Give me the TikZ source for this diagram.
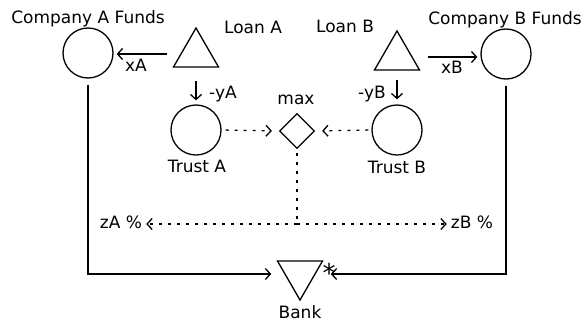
\documentclass[tikz,border=0pt]{standalone}
\usepackage{fontspec}
\setmainfont{DejaVu Sans}
\usetikzlibrary{shapes.geometric,arrows.meta}

\begin{document}
\begin{tikzpicture}[x=1pt,y=-1pt,
        font=\fontsize{17}{20}\selectfont,
        pool/.style={circle,draw,line width=1.3pt,minimum size=50pt,inner sep=0pt},
        tri/.style={regular polygon,regular polygon sides=3,draw,line width=1.3pt,minimum size=52pt,inner sep=0pt},
        gate/.style={diamond,draw,line width=1.3pt,minimum width=35pt,minimum height=35pt,inner sep=0pt},
        lbl/.style={anchor=base,inner sep=0pt},
        flow/.style={line width=1.3pt,-{Straight Barb[length=5pt,width=11pt]}},
        dotline/.style={line width=1.3pt,dash pattern=on 3pt off 6pt},
        dots/.style={flow,dotline}]
    \useasboundingbox (0,0) rectangle (586,322);

    % stocks and sources
    \node[pool] (fundsA) at (88,53) {};
    \node[pool] (fundsB) at (506,54) {};
    \node[tri] (loanA) at (196,54) {};
    \node[tri] (loanB) at (397,57) {};
    \node[pool] (trustA) at (196,130) {};
    \node[pool] (trustB) at (397,130) {};
    \node[gate] (max) at (297,131) {};
    \node[tri,shape border rotate=180] (bank) at (300,274) {};
    \coordinate (split) at (297,224);

    % labels
    \node[lbl] (fundsAlbl) at (88,23) {Company A Funds};
    \node[lbl] (fundsBlbl) at (505,24) {Company B Funds};
    \node[lbl] (loanAlbl) at (253,33) {Loan A};
    \node[lbl] (loanBlbl) at (345,32) {Loan B};
    \node[lbl] (xA) at (136,71) {xA};
    \node[lbl] (xB) at (452,73) {xB};
    \node[lbl,anchor=base west] (yA) at (209,98) {-yA};
    \node[lbl,anchor=base east] (yB) at (386,98) {-yB};
    \node[lbl] (trustAlbl) at (197,172) {Trust A};
    \node[lbl] (trustBlbl) at (397,173) {Trust B};
    \node[lbl] (maxlbl) at (296,104) {max};
    \node[lbl] (zA) at (121,228) {zA \%};
    \node[lbl] (zB) at (472,228) {zB \%};
    \node[lbl] (banklbl) at (300,318) {Bank};
    \node[font=\fontsize{26}{26}\selectfont] (star) at (329,273) {*};

    % flows
    \draw[flow,shorten <=13pt,shorten >=3pt] (loanA.west) -- (loanA.west -| fundsA.east);
    \draw[flow,shorten <=15pt,shorten >=3pt] (loanB.east) -- (loanB.east -| fundsB.west);
    \draw[flow,shorten <=13pt,shorten >=4pt] (loanA.south) -- (trustA.north);
    \draw[flow,shorten <=9pt,shorten >=5pt] (loanB.south) -- (trustB.north);
    \draw[dots,shorten <=4pt,shorten >=7pt] (trustA.east) -- (max.west);
    \draw[dots,shorten <=3pt,shorten >=7pt] (trustB.west) -- (max.east);
    \draw[dotline,shorten <=4pt] (max.south) -- (split);
    \draw[dots,shorten >=4pt] (split) -- (split -| zA.east);
    \draw[dots,shorten >=4pt] (split) -- (split -| zB.west);
    \draw[flow,shorten <=6pt,shorten >=13pt] (fundsA.south) |- (bank.west);
    \draw[flow,shorten <=6pt,shorten >=15pt] (fundsB.south) |- (bank.east);
\end{tikzpicture}
\end{document}
